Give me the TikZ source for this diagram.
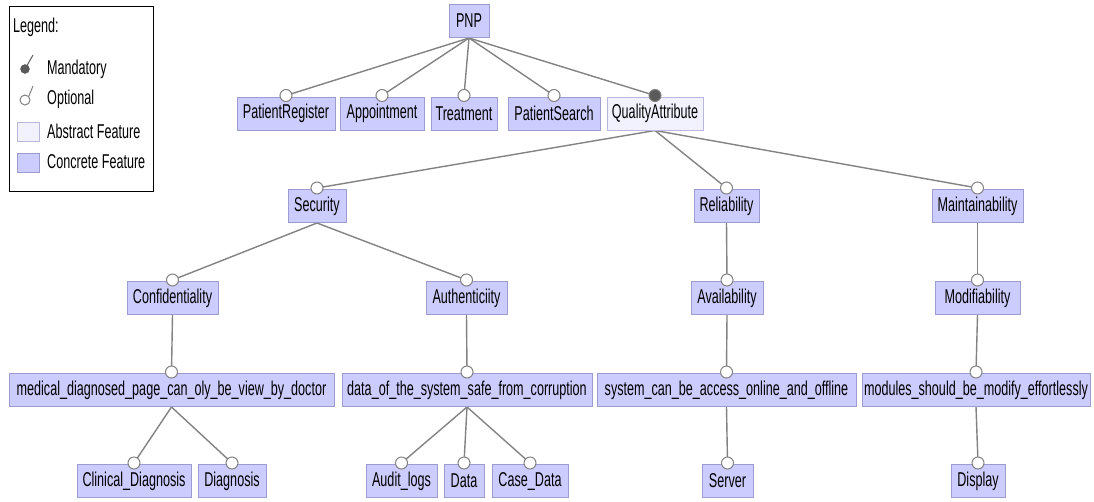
\documentclass[tikz,border=0pt]{standalone}
\usepackage{fontspec}
\setmainfont{Liberation Sans}[FakeStretch=0.63]
\usetikzlibrary{backgrounds}
\definecolor{conc}{HTML}{CCCCFF}
\definecolor{concb}{HTML}{9C9CD0}
\definecolor{abst}{HTML}{F2F2FF}
\definecolor{abstb}{HTML}{B8B8DC}
\definecolor{edgec}{HTML}{828282}
\definecolor{mand}{HTML}{5A5A5A}
\begin{document}
\begin{tikzpicture}[x=1pt,y=-1pt,
  feat/.style={draw=concb, fill=conc, line width=1pt, inner sep=0pt, minimum height=33, font=\fontsize{20}{22}\selectfont},
  absfeat/.style={feat, draw=abstb, fill=abst},
  opt/.style={circle, draw=edgec, fill=white, line width=1pt, minimum size=12, inner sep=0pt},
  man/.style={circle, draw=edgec, fill=mand, line width=1pt, minimum size=12, inner sep=0pt},
  link/.style={draw=edgec, line width=1.4pt},
  legtext/.style={anchor=west, inner sep=0pt, font=\fontsize{20}{22}\selectfont},
  swatch/.style={draw=concb, fill=conc, line width=1pt, inner sep=0pt, minimum width=22, minimum height=19}]
\useasboundingbox (0,0) rectangle (1094,501);

% legend
\node[draw=black, line width=1pt, minimum width=144, minimum height=185, inner sep=0pt] (legend) at (81,98.5) {};
\node[legtext] (lt) at (13,27) {Legend:};
\node[circle, fill=mand, draw=mand, minimum size=9, inner sep=0pt] (lm) at (25,69) {};
\coordinate (lmt) at (33,55);
\draw[draw=mand, line width=1pt] (lm.center) -- (lmt);
\node[legtext] (lmtext) at (47,69) {Mandatory};
\node[circle, fill=white, draw=edgec, line width=1pt, minimum size=10, inner sep=0pt] (lo) at (25,100) {};
\coordinate (lot) at (33,86);
\draw[draw=edgec, line width=1pt] (lo.north east) -- (lot);
\node[legtext] (lotext) at (47,99) {Optional};
\node[swatch, draw=abstb, fill=abst] (la) at (28,131.5) {};
\node[legtext] (latext) at (47,131) {Abstract Feature};
\node[swatch] (lc) at (28,162.5) {};
\node[legtext] (lctext) at (47,162) {Concrete Feature};

% features
\node[feat, minimum width=40] (pnp) at (469,21) {PNP};

\node[feat, minimum width=98] (pr) at (286,113.5) {PatientRegister};
\node[feat, minimum width=84] (app) at (382,113.5) {Appointment};
\node[feat, minimum width=66] (tr) at (464,113.5) {Treatment};
\node[feat, minimum width=92] (ps) at (554,113.5) {PatientSearch};
\node[absfeat, minimum width=96] (qa) at (655,113.5) {QualityAttribute};

\node[feat, minimum width=58] (sec) at (317,206) {Security};
\node[feat, minimum width=65] (rel) at (726.5,206) {Reliability};
\node[feat, minimum width=91] (main) at (977.5,206) {Maintainability};

\node[feat, minimum width=91] (conf) at (172.5,298) {Confidentiality};
\node[feat, minimum width=81] (auth) at (466.5,298) {Authenticiity};
\node[feat, minimum width=72] (avail) at (727,298) {Availability};
\node[feat, minimum width=85] (mod) at (977.5,298) {Modifiability};

\node[feat, minimum width=325] (med) at (171.5,390) {medical\_diagnosed\_page\_can\_oly\_be\_view\_by\_doctor};
\node[feat, minimum width=250] (dat) at (467,390) {data\_of\_the\_system\_safe\_from\_corruption};
\node[feat, minimum width=259] (sys) at (726.5,390) {system\_can\_be\_access\_online\_and\_offline};
\node[feat, minimum width=228] (mods) at (976,390) {modules\_should\_be\_modify\_effortlessly};

\node[feat, minimum width=114] (cd) at (134,481) {Clinical\_Diagnosis};
\node[feat, minimum width=68] (diag) at (232,481) {Diagnosis};
\node[feat, minimum width=71] (al) at (401.5,481) {Audit\_logs};
\node[feat, minimum width=40] (data) at (464,481) {Data};
\node[feat, minimum width=76] (case) at (530,481) {Case\_Data};
\node[feat, minimum width=51] (serv) at (727.5,481) {Server};
\node[feat, minimum width=54] (disp) at (978,481) {Display};

% decorations (optional / mandatory circles)
\foreach \n in {pr,app,tr,ps,sec,rel,main,conf,auth,avail,mod,med,dat,sys,mods,cd,diag,al,data,case,serv,disp}{
  \node[opt] (o\n) at ([yshift=1pt]\n.north) {};
}
\node[man] (oqa) at ([yshift=1pt]qa.north) {};

\begin{scope}[on background layer]
\foreach \p/\c in {pnp/pr,pnp/app,pnp/tr,pnp/ps,pnp/qa,qa/sec,qa/rel,qa/main,sec/conf,sec/auth,rel/avail,main/mod,conf/med,auth/dat,avail/sys,mod/mods,med/cd,med/diag,dat/al,dat/data,dat/case,sys/serv,mods/disp}{
  \draw[link] (\p.south) -- (o\c.center);
}
\end{scope}
\end{tikzpicture}
\end{document}
